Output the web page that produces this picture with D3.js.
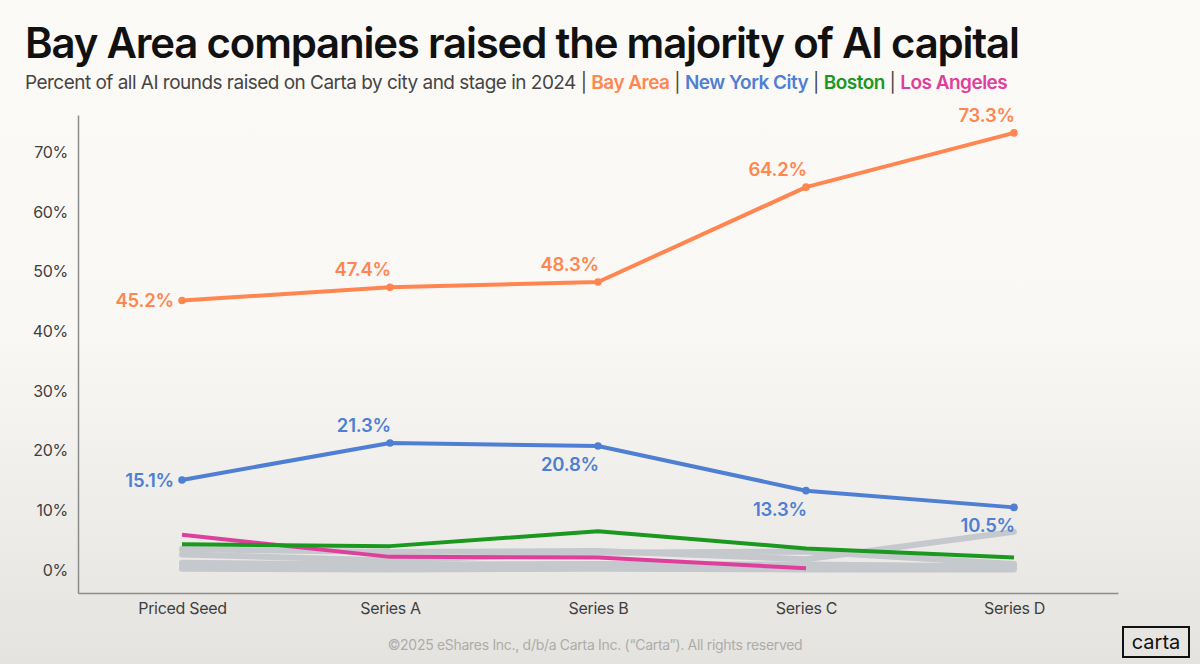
<!DOCTYPE html>
<html>
<head>
<meta charset="utf-8">
<script src="https://cdn.jsdelivr.net/npm/d3@7"></script>
<style>
  html, body { margin: 0; padding: 0; }
  body { width: 1200px; height: 664px; overflow: hidden; font-family: Inter, "Noto Sans", sans-serif; }
</style>
</head>
<body>
<div id="chart"></div>
<script>
// Stages on the x axis
const stages = ['Priced Seed', 'Series A', 'Series B', 'Series C', 'Series D'];

// Highlighted cities (percent of AI rounds)
const bayArea = [45.2, 47.4, 48.3, 64.2, 73.3];
const newYork = [15.1, 21.3, 20.8, 13.3, 10.5];
const boston = [4.3, 4.0, 6.5, 3.6, 2.1];
const losAngeles = [5.9, 2.2, 2.1, 0.3, null];

// Other cities, drawn in gray
const otherA = [3.5, 3.0, 3.2, 1.8, 6.4];
const otherB = [2.6, 1.6, 2.9, 3.1, 1.0];
const otherC = [1.2, 0.9, 1.0, 0.9, 0.6];
const otherD = [0.6, 0.4, 0.5, 0.4, 0.3];
const otherE = [0.2, 0.1, 0.2, 0.1, 0.1];

// Y axis ticks
const yTicks = [0, 10, 20, 30, 40, 50, 60, 70];

// Where the value labels sit relative to their point
const bayLabelPos = ['left', 'above', 'above', 'above', 'above'];
const nycLabelPos = ['left', 'above', 'below', 'below', 'below'];

const colors = {
    bay: '#ff8650',
    nyc: '#4f7fd3',
    boston: '#1b981f',
    la: '#de3f9c',
    other: '#c5c8cd',
    text: '#3f3f3f'
};

const width = 1200;
const height = 664;

const svg = d3.select('#chart')
    .append('svg')
    .attr('width', width)
    .attr('height', height);

// Background with a soft gray fade toward the bottom
const defs = svg.append('defs');
const bg = defs.append('linearGradient')
    .attr('id', 'bg')
    .attr('x1', 0).attr('y1', 0).attr('x2', 0).attr('y2', 1);
bg.append('stop').attr('offset', '0%').attr('stop-color', '#fcfaf6');
bg.append('stop').attr('offset', '50%').attr('stop-color', '#faf8f4');
bg.append('stop').attr('offset', '100%').attr('stop-color', '#e4e3df');

svg.append('rect')
    .attr('width', width)
    .attr('height', height)
    .attr('fill', 'url(#bg)');

// Title
const title = svg.append('text')
    .attr('x', 25)
    .attr('y', 58)
    .attr('font-family', 'Inter, sans-serif')
    .attr('font-weight', 600)
    .attr('font-size', 44)
    .attr('letter-spacing', -1.2)
    .attr('fill', '#111')
    .text('Bay Area companies raised the majority of AI capital');
fitWidth(title, 997);

// Subtitle with the coloured legend inline
const subtitle = svg.append('text')
    .attr('x', 25)
    .attr('y', 89)
    .attr('font-family', 'Inter, sans-serif')
    .attr('font-size', 18)
    .attr('fill', '#454545')
    .attr('letter-spacing', -0.5);

const subParts = [
    {t: 'Percent of all AI rounds raised on Carta by city and stage in 2024 | ', c: '#454545', w: 400},
    {t: 'Bay Area', c: colors.bay, w: 600},
    {t: ' | ', c: '#454545', w: 400},
    {t: 'New York City', c: colors.nyc, w: 600},
    {t: ' | ', c: '#454545', w: 400},
    {t: 'Boston', c: colors.boston, w: 600},
    {t: ' | ', c: '#454545', w: 400},
    {t: 'Los Angeles', c: colors.la, w: 600}
];
subParts.forEach(p => {
    subtitle.append('tspan')
        .attr('fill', p.c)
        .attr('font-weight', p.w)
        .text(p.t);
});
fitWidth(subtitle, 980);

// Scales
const x = d3.scalePoint()
    .domain(stages)
    .range([78, 1118])
    .padding(0.5);

const y = d3.scaleLinear()
    .domain([-3.86, 76.3])
    .range([593, 115]);

// Axes
const yAxis = svg.append('g')
    .attr('transform', 'translate(78,0)')
    .call(d3.axisLeft(y).tickValues(yTicks).tickSize(0).tickPadding(10).tickFormat(d => d + '%'));

const xAxis = svg.append('g')
    .attr('transform', 'translate(0,593)')
    .call(d3.axisBottom(x).tickSize(0).tickPadding(7));

svg.selectAll('.domain')
    .attr('stroke', '#8c8c8c')
    .attr('stroke-width', 1.5);

svg.selectAll('.tick text')
    .attr('font-family', 'Inter, sans-serif')
    .attr('font-size', 16)
    .attr('letter-spacing', -0.3)
    .attr('fill', colors.text);

xAxis.selectAll('.tick text').attr('dy', '0.85em');

// Line generator that skips missing values
const line = d3.line()
    .defined(d => d.v !== null)
    .x(d => x(d.s))
    .y(d => y(d.v));

const toPoints = arr => arr.map((v, i) => ({s: stages[i], v: v}));

// Gray lines for other cities
[otherE, otherD, otherC, otherB, otherA].forEach(arr => {
    svg.append('path')
        .datum(toPoints(arr))
        .attr('d', line)
        .attr('fill', 'none')
        .attr('stroke', colors.other)
        .attr('stroke-width', 6)
        .attr('stroke-linejoin', 'round')
        .attr('stroke-linecap', 'round');
});

// Highlighted cities
const series = [
    {data: losAngeles, color: colors.la, dots: false},
    {data: boston, color: colors.boston, dots: false},
    {data: newYork, color: colors.nyc, dots: true, labels: nycLabelPos},
    {data: bayArea, color: colors.bay, dots: true, labels: bayLabelPos}
];

series.forEach(s => {
    const pts = toPoints(s.data);

    svg.append('path')
        .datum(pts)
        .attr('d', line)
        .attr('fill', 'none')
        .attr('stroke', s.color)
        .attr('stroke-width', 4)
        .attr('stroke-linejoin', 'round');

    if (s.dots) {
        svg.selectAll(null)
            .data(pts)
            .enter()
            .append('circle')
            .attr('cx', d => x(d.s))
            .attr('cy', d => y(d.v))
            .attr('r', 3.8)
            .attr('fill', s.color);
    }

    if (s.labels) {
        svg.selectAll(null)
            .data(pts)
            .enter()
            .append('text')
            .attr('x', (d, i) => x(d.s) + (s.labels[i] === 'left' ? -8 : 1))
            .attr('y', (d, i) => {
                const pos = s.labels[i];
                if (pos === 'left') return y(d.v) + 7;
                if (pos === 'above') return y(d.v) - 11;
                return y(d.v) + 25;
            })
            .attr('text-anchor', 'end')
            .attr('font-family', 'Inter, sans-serif')
            .attr('font-weight', 600)
            .attr('font-size', 18.5)
            .attr('letter-spacing', -0.2)
            .attr('fill', s.color)
            .text(d => d.v.toFixed(1) + '%');
    }
});

// Footer
svg.append('text')
    .attr('x', 595)
    .attr('y', 650)
    .attr('text-anchor', 'middle')
    .attr('font-family', 'Inter, sans-serif')
    .attr('font-size', 14)
    .attr('letter-spacing', -0.3)
    .attr('fill', '#aeaca9')
    .text('\u00a92025 eShares Inc., d/b/a Carta Inc. (\u201cCarta\u201d). All rights reserved');

// Carta logo box
svg.append('rect')
    .attr('x', 1123)
    .attr('y', 627)
    .attr('width', 66)
    .attr('height', 30)
    .attr('fill', 'none')
    .attr('stroke', '#111')
    .attr('stroke-width', 2);

svg.append('text')
    .attr('x', 1156)
    .attr('y', 649)
    .attr('text-anchor', 'middle')
    .attr('font-family', 'Inter, sans-serif')
    .attr('font-size', 20)
    .attr('fill', '#111')
    .text('carta');

// Scale a text's font size so it spans the target width
function fitWidth(sel, target) {
    const node = sel.node();
    const w = node.getComputedTextLength();
    const fs = parseFloat(sel.attr('font-size'));
    sel.attr('font-size', fs * target / w);
}
</script>
</body>
</html>
